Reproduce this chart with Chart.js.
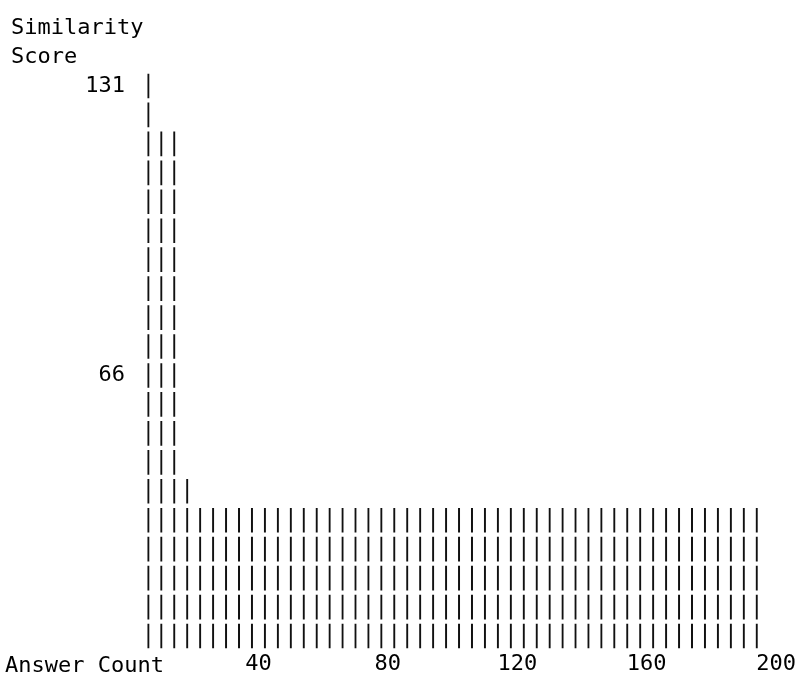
<!DOCTYPE html>
<html>
<head>
<meta charset="utf-8">
<script src="https://cdn.jsdelivr.net/npm/chart.js@4.4.0/dist/chart.umd.min.js"></script>
<style>
  html, body { margin: 0; padding: 0; background: #fff; }
  #wrap { width: 797px; height: 682px; }
</style>
</head>
<body>
<div id="wrap"><canvas id="chart"></canvas></div>
<script>
// values: one column per answer-count bin
var answerCounts = [6, 10, 14, 18, 22, 26, 30, 34, 38, 42, 46, 50, 54, 58, 62, 66,
    70, 74, 78, 82, 86, 90, 94, 98, 102, 106, 110, 114, 118, 122, 126, 130,
    134, 138, 142, 146, 150, 154, 158, 162, 166, 170, 174, 178, 182, 186, 190, 194];
var similarityScores = [131, 118, 118, 40, 33, 33, 33, 33, 33, 33, 33, 33, 33, 33, 33, 33,
    33, 33, 33, 33, 33, 33, 33, 33, 33, 33, 33, 33, 33, 33, 33, 33,
    33, 33, 33, 33, 33, 33, 33, 33, 33, 33, 33, 33, 33, 33, 33, 33];
var xTicks = [0, 40, 80, 120, 160, 200];
var yTicks = [66, 131];
var xTitle = 'Answer Count';
var yTitle = ['Similarity', 'Score'];

// text grid: each row of "|" covers one step of the score scale
var rowBase = 4.25;
var rowStep = 6.5;
var rowCount = 20;
var monoFont = 'DejaVu Sans Mono';

var datasets = [];
for (var j = 0; j < rowCount; j++) {
    var lo = rowBase + j * rowStep;
    var hi = lo + rowStep;
    var pts = [];
    answerCounts.forEach(function(x, i) {
        if (similarityScores[i] > lo) pts.push({ x: x, y: [lo, hi] });
    });
    datasets.push({
        data: pts,
        backgroundColor: '#111',
        borderColor: '#fff',
        borderWidth: { top: 2.5, bottom: 2.5, left: 0, right: 0 },
        borderSkipped: false,
        barThickness: 2,
        grouped: false
    });
}

var xTitlePlugin = {
    id: 'xTitleLeft',
    afterDraw: function(chart) {
        var ctx = chart.ctx;
        ctx.save();
        ctx.font = '22px "' + monoFont + '"';
        ctx.fillStyle = '#000';
        ctx.textBaseline = 'alphabetic';
        ctx.fillText(xTitle, 5, chart.chartArea.bottom + 21.5);
        ctx.restore();
    }
};

var tickFont = { family: monoFont, size: 22, lineHeight: 1.2 };

new Chart(document.getElementById('chart'), {
    type: 'bar',
    data: { datasets: datasets },
    plugins: [xTitlePlugin],
    options: {
        responsive: true,
        maintainAspectRatio: false,
        animation: false,
        layout: { padding: { left: 11, right: 0, top: 0, bottom: 0 } },
        plugins: {
            legend: { display: false },
            tooltip: { enabled: false },
            title: {
                display: true,
                text: yTitle,
                align: 'start',
                color: '#000',
                font: { family: monoFont, size: 22, weight: 'normal', lineHeight: 29 / 22 },
                padding: { top: 13.5, bottom: 0 }
            }
        },
        scales: {
            x: {
                type: 'linear',
                min: 0,
                max: 200,
                offset: false,
                grid: { display: false, drawTicks: false },
                border: { display: false },
                ticks: {
                    font: tickFont,
                    color: '#000',
                    padding: 1,
                    maxRotation: 0,
                    autoSkip: false,
                    callback: function(v) { return v === 0 ? '' : v; }
                },
                afterBuildTicks: function(s) { s.ticks = xTicks.map(function(v) { return { value: v }; }); },
                afterFit: function(s) { s.height = 31.5; }
            },
            y: {
                type: 'linear',
                min: rowBase,
                max: rowBase + rowStep * rowCount,
                grid: { display: false, drawTicks: false },
                border: { display: false },
                ticks: { font: tickFont, color: '#000', padding: 4 },
                afterBuildTicks: function(s) { s.ticks = yTicks.map(function(v) { return { value: v }; }); },
                afterFit: function(s) { s.width = 118; }
            }
        }
    }
});
</script>
</body>
</html>
